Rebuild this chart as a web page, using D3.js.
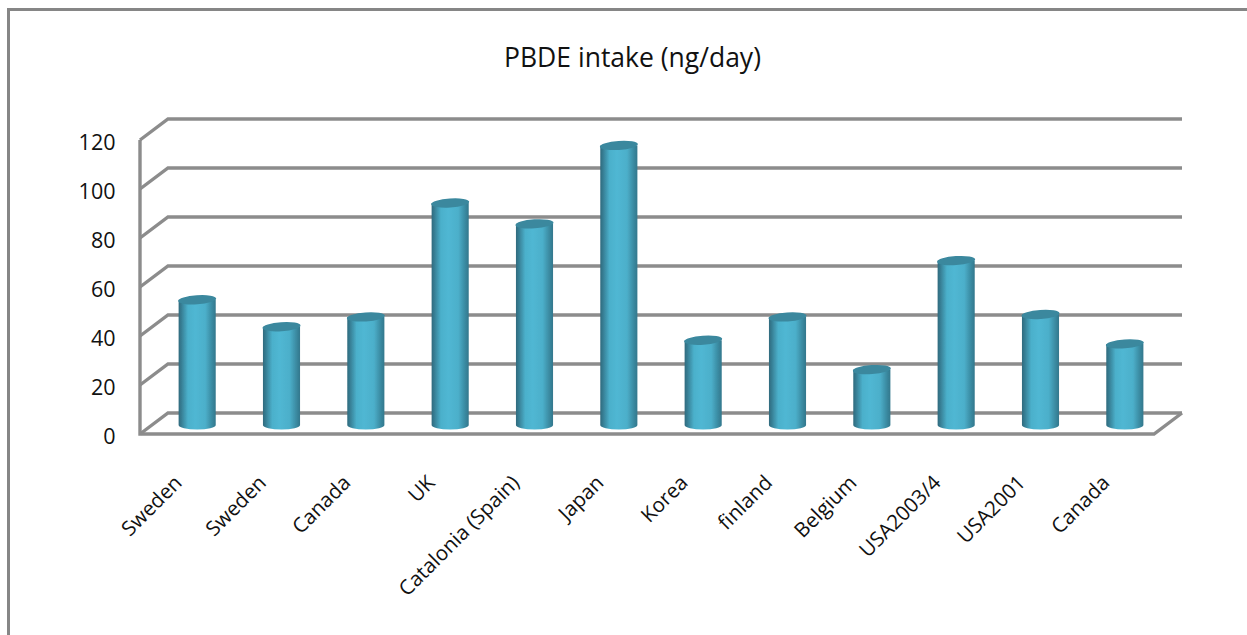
<!DOCTYPE html>
<html><head><meta charset="utf-8">
<script src="https://cdn.jsdelivr.net/npm/d3@7/dist/d3.min.js"></script>
<style>html,body{margin:0;padding:0;background:#fff;overflow:hidden}svg{display:block}text{font-family:"Open Sans","Noto Sans",sans-serif;fill:#111}</style>
</head><body><svg id="c" width="1247" height="635"></svg>
<script>
const categories=["Sweden","Sweden","Canada","UK","Catalonia (Spain)","Japan","Korea","finland","Belgium","USA2003/4","USA2001","Canada"];
const values=[50.5,39.5,43.5,90,81.5,113.5,34,43.5,22,66.5,44.5,32.5];
const yTicks=[0,20,40,60,80,100,120];
const titleText="PBDE intake (ng/day)";

const svg=d3.select("#c");
const W=1247,H=635;
const depthX=28,depthY=-21;
const frontLeft=140,backRight=1182;
const y=d3.scaleLinear().domain([0,120]).range([434,140]);
const x=d3.scaleBand().domain(d3.range(categories.length)).range([155,1167]).paddingInner(0.56).paddingOuter(0.28);
const grey="#8c8c8c";

const defs=svg.append("defs");
const g=defs.append("linearGradient").attr("id","cyl").attr("x1",0).attr("x2",1).attr("y1",0).attr("y2",0);
[[0,"#2f6a7d"],[0.08,"#377f95"],[0.25,"#4bb0cb"],[0.45,"#50b7d3"],[0.72,"#4cafca"],[0.9,"#3a8aa1"],[1,"#33778c"]]
 .forEach(s=>g.append("stop").attr("offset",s[0]).attr("stop-color",s[1]));
const blur=defs.append("filter").attr("id","soft").attr("x","-5%").attr("y","-5%").attr("width","110%").attr("height","110%");
blur.append("feGaussianBlur").attr("stdDeviation",0.6);

// chart frame
svg.append("path").attr("d",`M8.5,${H}V9.5H${W}`).attr("fill","none").attr("stroke","#868686").attr("stroke-width",3);

// walls & grid
const grid=svg.append("g").attr("fill","none").attr("stroke",grey).attr("stroke-width",3.4).attr("filter","url(#soft)");
yTicks.forEach(t=>{
  grid.append("path").attr("d",`M${frontLeft},${y(t)}L${frontLeft+depthX},${y(t)+depthY}H${backRight}`);
});
grid.append("path").attr("d",`M${frontLeft},${y(120)}V${y(0)}H${backRight-depthX}L${backRight},${y(0)+depthY}`);

// cylinders
const base=y(0)+depthY/2+1.5;
const scaleV=v=>y(v)+depthY/2;
const bars=svg.append("g").attr("filter","url(#soft)");
values.forEach((v,i)=>{
  const l=x(i),w=x.bandwidth(),cx=l+w/2,ry=4.5,top=scaleV(v);
  bars.append("path")
    .attr("d",`M${l},${top}V${base}A${w/2},${ry} 0 0 0 ${l+w},${base}V${top}Z`)
    .attr("fill","url(#cyl)");
  bars.append("ellipse").attr("cx",cx).attr("cy",top).attr("rx",w/2+0.5).attr("ry",ry)
    .attr("transform",`rotate(-4 ${cx} ${top})`).attr("fill","#3a889e");
});

// y labels
svg.append("g").selectAll("text").data(yTicks).join("text")
  .attr("x",115.5).attr("y",d=>y(d)+2).attr("dy","0.36em").attr("text-anchor","end")
  .attr("font-size",21.5).text(d=>d);

// x labels
svg.append("g").selectAll("text").data(categories).join("text")
  .attr("text-anchor","end").attr("font-size",20.5)
  .attr("transform",(d,i)=>`translate(${x(i)+x.bandwidth()/2-14},${484}) rotate(-45)`)
  .text(d=>d);

svg.append("text").attr("x",632.5).attr("y",67).attr("text-anchor","middle").attr("font-size",26.5).text(titleText);
</script></body></html>
